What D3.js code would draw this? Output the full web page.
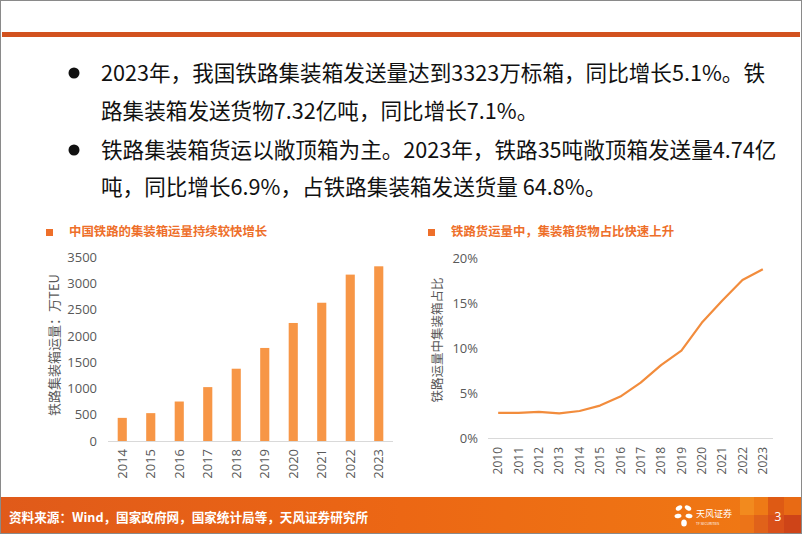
<!DOCTYPE html>
<html><head><meta charset="utf-8">
<script src="https://cdn.jsdelivr.net/npm/d3@7"></script>
<style>
html,body{margin:0;padding:0;background:#fff;}
svg{display:block;}
</style></head>
<body>
<svg id="c" width="802" height="534"></svg>
<script>
// ---- data ----
const barYears = ["2014","2015","2016","2017","2018","2019","2020","2021","2022","2023"];
const barValues = [440, 530, 751, 1025, 1375, 1770, 2245, 2630, 3165, 3323];
const barTicks = [0, 500, 1000, 1500, 2000, 2500, 3000, 3500];
const lineYears = ["2010","2011","2012","2013","2014","2015","2016","2017","2018","2019","2020","2021","2022","2023"];
const lineValues = [2.8, 2.8, 2.9, 2.74, 3.0, 3.6, 4.6, 6.15, 8.1, 9.7, 12.8, 15.25, 17.55, 18.75];
const lineTicks = [0, 5, 10, 15, 20];
const bodyLines = [
  {bullet:true, text:"2023年，我国铁路集装箱发送量达到3323万标箱，同比增长5.1%。铁"},
  {bullet:false, text:"路集装箱发送货物7.32亿吨，同比增长7.1%。"},
  {bullet:true, text:"铁路集装箱货运以敞顶箱为主。2023年，铁路35吨敞顶箱发送量4.74亿"},
  {bullet:false, text:"吨，同比增长6.9%，占铁路集装箱发送货量 64.8%。"}
];
const leftTitle = "中国铁路的集装箱运量持续较快增长";
const rightTitle = "铁路货运量中，集装箱货物占比快速上升";
const leftYTitle = "铁路集装箱运量：万TEU";
const rightYTitle = "铁路运量中集装箱占比";
const sourceText = "资料来源：Wind，国家政府网，国家统计局等，天风证券研究所";

const svg = d3.select("#c");
const FONT = "'Open Sans','Noto Sans CJK SC',sans-serif";
const CJK = "'Noto Sans CJK SC','Open Sans',sans-serif";

// border
svg.append("rect").attr("x",0.5).attr("y",0.5).attr("width",801).attr("height",533)
  .attr("fill","#fff").attr("stroke","#8a8a8a");
// top rule
svg.append("rect").attr("x",2).attr("y",32).attr("width",798).attr("height",5).attr("fill","#D2521F");

// body text
const yLines = [73, 111, 150, 187];
bodyLines.forEach((l,i)=>{
  if(l.bullet) svg.append("circle").attr("cx",74).attr("cy",yLines[i]).attr("r",5.5).attr("fill","#111");
  svg.append("text").attr("x",101).attr("y",yLines[i]).attr("dy","0.36em")
    .attr("font-family",CJK).attr("font-size",21.6).attr("fill","#111").text(l.text);
});

// titles
function title(x, y, txt){
  svg.append("rect").attr("x",x-3).attr("y",y-3).attr("width",7).attr("height",7).attr("fill","#EE6F2A");
  svg.append("text").attr("x",x+20).attr("y",y).attr("dy","0.36em").attr("font-family",CJK)
    .attr("font-weight","bold").attr("font-size",12.4).attr("fill","#EE6F2A").text(txt);
}
title(49, 232, leftTitle);
title(431, 232, rightTitle);

const axisColor = "#D9D9D9", labelColor = "#595959";

// ---- left bar chart ----
const xb = d3.scaleBand().domain(barYears).range([108, 393]).paddingInner(0.68).paddingOuter(0.34);
const yb = d3.scaleLinear().domain([0, 3500]).range([441, 257]);
const gL = svg.append("g");
gL.selectAll("rect.bar").data(barValues).join("rect").attr("class","bar")
  .attr("x",(d,i)=>xb(barYears[i])).attr("width",xb.bandwidth())
  .attr("y",d=>yb(d)).attr("height",d=>yb(0)-yb(d)).attr("fill","#F79646");
gL.append("line").attr("x1",108).attr("x2",393).attr("y1",441.5).attr("y2",441.5).attr("stroke",axisColor);
const yAxL = gL.append("g").attr("transform","translate(97,0)")
  .call(d3.axisLeft(yb).tickValues(barTicks).tickFormat(d3.format("d")).tickSize(0).tickPadding(0));
yAxL.select(".domain").remove();
yAxL.selectAll("text").attr("font-family",FONT).attr("font-size",13).attr("fill",labelColor);
const xAxL = gL.append("g").attr("transform","translate(0,449)")
  .call(d3.axisBottom(xb).tickSize(0).tickPadding(0));
xAxL.select(".domain").remove();
xAxL.selectAll("text").attr("font-family",FONT).attr("font-size",13).attr("fill",labelColor)
  .attr("transform","rotate(-90)").attr("text-anchor","end").attr("dx",0).attr("dy","0.35em").attr("x",0).attr("y",0);
gL.append("text").attr("transform","translate(54,345) rotate(-90)").attr("text-anchor","middle")
  .attr("dy","0.35em").attr("font-family",CJK).attr("font-size",13).attr("fill",labelColor).text(leftYTitle);

// ---- right line chart ----
const xl = d3.scaleBand().domain(lineYears).range([488, 773]);
const yl = d3.scaleLinear().domain([0, 20]).range([438, 258]);
const gR = svg.append("g");
gR.append("line").attr("x1",488).attr("x2",773).attr("y1",438.5).attr("y2",438.5).attr("stroke",axisColor);
const line = d3.line().x((d,i)=>xl(lineYears[i])+xl.bandwidth()/2).y(d=>yl(d));
gR.append("path").datum(lineValues).attr("d",line).attr("fill","none")
  .attr("stroke","#F28C3C").attr("stroke-width",2.2).attr("stroke-linejoin","round");
const yAxR = gR.append("g").attr("transform","translate(478,0)")
  .call(d3.axisLeft(yl).tickValues(lineTicks).tickFormat(d=>d+"%").tickSize(0).tickPadding(0));
yAxR.select(".domain").remove();
yAxR.selectAll("text").attr("font-family",FONT).attr("font-size",13).attr("fill",labelColor);
const xAxR = gR.append("g").attr("transform","translate(0,447)")
  .call(d3.axisBottom(xl).tickSize(0).tickPadding(0));
xAxR.select(".domain").remove();
xAxR.selectAll("text").attr("font-family",FONT).attr("font-size",12).attr("fill",labelColor)
  .attr("transform","rotate(-90)").attr("text-anchor","end").attr("dx",0).attr("dy","0.35em").attr("x",0).attr("y",0);
gR.append("text").attr("transform","translate(438,340) rotate(-90)").attr("text-anchor","middle")
  .attr("dy","0.35em").attr("font-family",CJK).attr("font-size",12.5).attr("fill",labelColor).text(rightYTitle);

// ---- footer ----
const defs = svg.append("defs");
const grad = defs.append("linearGradient").attr("id","fg").attr("x1","0").attr("x2","1");
grad.append("stop").attr("offset","0").attr("stop-color","#E05A1A");
grad.append("stop").attr("offset","0.5").attr("stop-color","#EC6714");
grad.append("stop").attr("offset","1").attr("stop-color","#F07A14");
svg.append("rect").attr("x",1).attr("y",497).attr("width",800).attr("height",36).attr("fill","url(#fg)");
const sq = [
  [740,497,14,18,"#F28A1E"],[754,497,14,18,"#EE7A16"],[768,497,16,18,"#DE5A14"],[784,497,17,18,"#E86A14"],
  [740,515,14,18,"#EC7418"],[754,515,14,18,"#E0621A"],[768,515,16,18,"#D9501A"],[784,515,17,18,"#CE4418"]
];
sq.forEach(s=>svg.append("rect").attr("x",s[0]).attr("y",s[1]).attr("width",s[2]).attr("height",s[3]).attr("fill",s[4]));
svg.append("text").attr("x",9).attr("y",517).attr("dy","0.36em").attr("font-family",CJK).attr("font-weight","bold")
  .attr("font-size",12.6).attr("fill","#fff").text(sourceText);
svg.append("text").attr("x",778).attr("y",517).attr("dy","0.36em").attr("text-anchor","middle")
  .attr("font-family",FONT).attr("font-size",12).attr("fill","#fff").text("3");
// logo
const lg = svg.append("g").attr("transform","translate(684,516)");
[[-5,-8,3.5,2.2,-30],[4,-8,3.5,2.2,30],[-6,0,3.5,2.2,-10],[5,0,3.5,2.2,10],[0,7,2.8,3.5,0]].forEach(p=>
  lg.append("ellipse").attr("cx",p[0]).attr("cy",p[1]).attr("rx",p[2]).attr("ry",p[3])
    .attr("transform",`rotate(${p[4]},${p[0]},${p[1]})`).attr("fill","#fff"));
svg.append("text").attr("x",696).attr("y",514).attr("dy","0.36em").attr("font-family",CJK)
  .attr("font-size",9).attr("fill","#fff").text("天风证券");
svg.append("text").attr("x",696).attr("y",524).attr("dy","0.36em").attr("font-family",FONT)
  .attr("font-size",3.5).attr("fill","#fff").text("TF SECURITIES");
</script>
</body></html>
